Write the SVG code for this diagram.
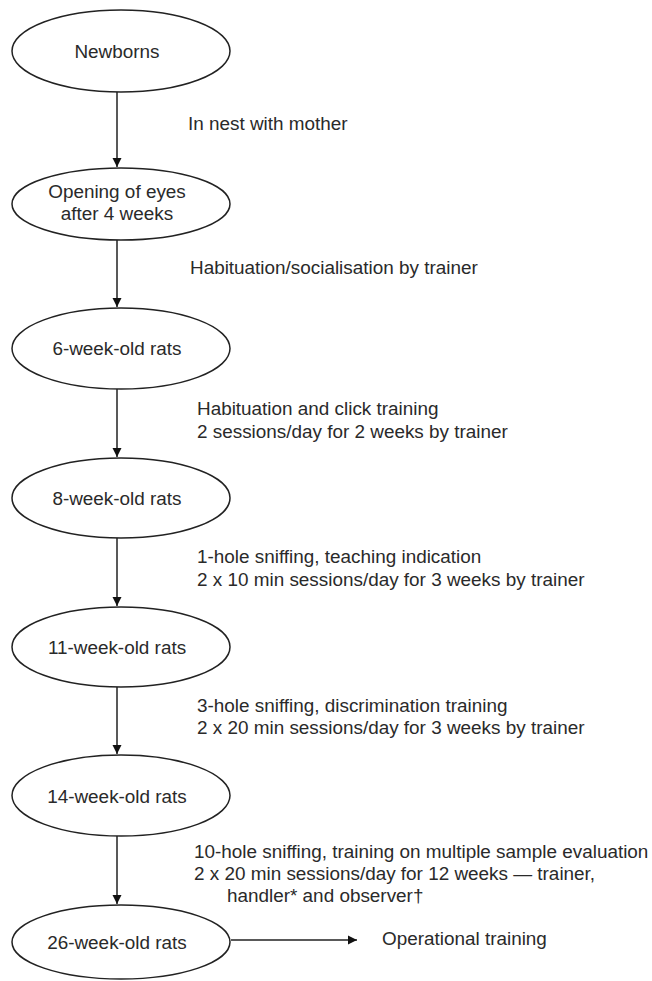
<svg xmlns="http://www.w3.org/2000/svg" width="652" height="981" viewBox="0 0 652 981">
<style>
.n ellipse{fill:#fff;stroke:#222;stroke-width:1.5}
text{font-family:"Liberation Sans",Arial,sans-serif;font-size:18.9px;fill:#2a2a2a}
.c{text-anchor:middle}
.e line{stroke:#222;stroke-width:1.5}
</style>
<defs>
<marker id="ah" markerWidth="10" markerHeight="10" refX="9" refY="5" orient="auto" markerUnits="userSpaceOnUse">
<path d="M0,0.5 L9,5 L0,9.5 Z" fill="#111"/>
</marker>
</defs>
<rect width="652" height="981" fill="#fff"/>
<g id="edges" class="e">
<line x1="117" y1="92" x2="117" y2="167" marker-end="url(#ah)"/>
<line x1="117" y1="240" x2="117" y2="307" marker-end="url(#ah)"/>
<line x1="117" y1="389" x2="117" y2="457" marker-end="url(#ah)"/>
<line x1="117" y1="538" x2="117" y2="606" marker-end="url(#ah)"/>
<line x1="117" y1="687" x2="117" y2="754" marker-end="url(#ah)"/>
<line x1="117" y1="836" x2="117" y2="904" marker-end="url(#ah)"/>
<line x1="231" y1="940" x2="357" y2="940" marker-end="url(#ah)"/>
</g>
<g id="labels">
<text x="188" y="130">In nest with mother</text>
<text x="190" y="274">Habituation/socialisation by trainer</text>
<text x="197" y="415">Habituation and click training</text>
<text x="197" y="438">2 sessions/day for 2 weeks by trainer</text>
<text x="197" y="563">1-hole sniffing, teaching indication</text>
<text x="197" y="586">2 x 10 min sessions/day for 3 weeks by trainer</text>
<text x="197" y="712">3-hole sniffing, discrimination training</text>
<text x="197" y="734">2 x 20 min sessions/day for 3 weeks by trainer</text>
<text x="194" y="858">10-hole sniffing, training on multiple sample evaluation</text>
<text x="194" y="880">2 x 20 min sessions/day for 12 weeks — trainer,</text>
<text x="227" y="902">handler* and observer†</text>
<text x="382" y="945">Operational training</text>
</g>
<g id="newborns" class="n"><ellipse cx="121" cy="51" rx="109" ry="41"/><text class="c" x="117" y="58">Newborns</text></g>
<g id="eyes" class="n"><ellipse cx="121" cy="204" rx="109" ry="36"/><text class="c" x="117" y="198">Opening of eyes</text><text class="c" x="117" y="220">after 4 weeks</text></g>
<g id="w6" class="n"><ellipse cx="121" cy="348.5" rx="109" ry="40.5"/><text class="c" x="117" y="355">6-week-old rats</text></g>
<g id="w8" class="n"><ellipse cx="121" cy="498" rx="109" ry="40"/><text class="c" x="117" y="505">8-week-old rats</text></g>
<g id="w11" class="n"><ellipse cx="121" cy="647" rx="109" ry="40"/><text class="c" x="117" y="654">11-week-old rats</text></g>
<g id="w14" class="n"><ellipse cx="121" cy="795.5" rx="109" ry="40.5"/><text class="c" x="117" y="803">14-week-old rats</text></g>
<g id="w26" class="n"><ellipse cx="121" cy="942" rx="109" ry="37"/><text class="c" x="117" y="949">26-week-old rats</text></g>
</svg>
